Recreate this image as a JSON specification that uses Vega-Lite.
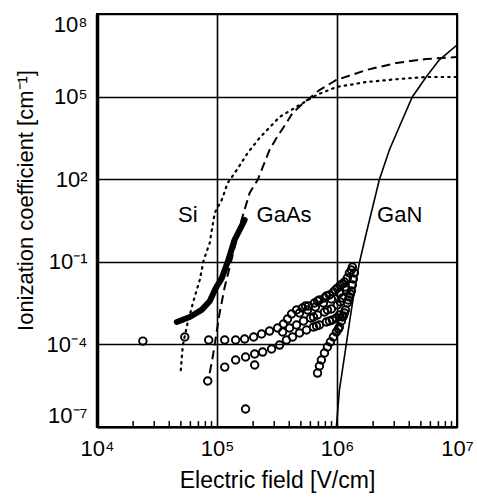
{
  "$schema": "https://vega.github.io/schema/vega-lite/v6.json",
  "width": 360,
  "height": 413,
  "autosize": "none",
  "padding": {"left": 97, "top": 14, "right": 20, "bottom": 73},
  "background": "white",
  "config": {
    "font": "Liberation Sans",
    "view": {"stroke": "black", "strokeWidth": 2},
    "axis": {"labelFont": "Liberation Sans", "titleFont": "Liberation Sans"}
  },
  "datasets": {
    "curves": [
      {"series": "Si", "E": 49900, "alpha": 1.17e-5},
      {"series": "Si", "E": 51900, "alpha": 9.46e-5},
      {"series": "Si", "E": 57100, "alpha": 6.49e-4},
      {"series": "Si", "E": 64000, "alpha": 4.09e-3},
      {"series": "Si", "E": 71800, "alpha": 0.0218},
      {"series": "Si", "E": 77500, "alpha": 0.116},
      {"series": "Si", "E": 86900, "alpha": 0.481},
      {"series": "Si", "E": 95700, "alpha": 5.91},
      {"series": "Si", "E": 109400, "alpha": 17.5},
      {"series": "Si", "E": 122700, "alpha": 72.6},
      {"series": "Si", "E": 146000, "alpha": 215},
      {"series": "Si", "E": 180000, "alpha": 893},
      {"series": "Si", "E": 226000, "alpha": 3130},
      {"series": "Si", "E": 332000, "alpha": 18200},
      {"series": "Si", "E": 487000, "alpha": 49500},
      {"series": "Si", "E": 675000, "alpha": 114000},
      {"series": "Si", "E": 988000, "alpha": 223000},
      {"series": "Si", "E": 1756000, "alpha": 339000},
      {"series": "Si", "E": 3300000, "alpha": 436000},
      {"series": "Si", "E": 5530000, "alpha": 515000},
      {"series": "Si", "E": 10000000, "alpha": 515000},
      {"series": "GaAs", "E": 86900, "alpha": 9.1e-6},
      {"series": "GaAs", "E": 92100, "alpha": 3.47e-5},
      {"series": "GaAs", "E": 105200, "alpha": 1.38e-3},
      {"series": "GaAs", "E": 115900, "alpha": 0.0121},
      {"series": "GaAs", "E": 160000, "alpha": 3.29},
      {"series": "GaAs", "E": 187000, "alpha": 31.5},
      {"series": "GaAs", "E": 218000, "alpha": 93.3},
      {"series": "GaAs", "E": 274000, "alpha": 1150},
      {"series": "GaAs", "E": 313000, "alpha": 3130},
      {"series": "GaAs", "E": 379000, "alpha": 11000},
      {"series": "GaAs", "E": 426000, "alpha": 25400},
      {"series": "GaAs", "E": 526000, "alpha": 58500},
      {"series": "GaAs", "E": 714000, "alpha": 173000},
      {"series": "GaAs", "E": 988000, "alpha": 401000},
      {"series": "GaAs", "E": 1756000, "alpha": 925000},
      {"series": "GaAs", "E": 3120000, "alpha": 1660000},
      {"series": "GaAs", "E": 5530000, "alpha": 2320000},
      {"series": "GaAs", "E": 10000000, "alpha": 2740000},
      {"series": "GaN", "E": 988000, "alpha": 1e-7},
      {"series": "GaN", "E": 1047000, "alpha": 2.2e-6},
      {"series": "GaN", "E": 1175000, "alpha": 6.23e-5},
      {"series": "GaN", "E": 1290000, "alpha": 9.87e-4},
      {"series": "GaN", "E": 1420000, "alpha": 0.0143},
      {"series": "GaN", "E": 1535000, "alpha": 0.0902},
      {"series": "GaN", "E": 1756000, "alpha": 1.11},
      {"series": "GaN", "E": 2250000, "alpha": 93.3},
      {"series": "GaN", "E": 2730000, "alpha": 1150},
      {"series": "GaN", "E": 3300000, "alpha": 7860},
      {"series": "GaN", "E": 4240000, "alpha": 96600},
      {"series": "GaN", "E": 5530000, "alpha": 515000},
      {"series": "GaN", "E": 7100000, "alpha": 2130000},
      {"series": "GaN", "E": 10000000, "alpha": 7480000},
      {"series": "SiData", "E": 46300, "alpha": 6.5e-4},
      {"series": "SiData", "E": 59300, "alpha": 9.9e-4},
      {"series": "SiData", "E": 74500, "alpha": 1.8e-3},
      {"series": "SiData", "E": 86900, "alpha": 3.7e-3},
      {"series": "SiData", "E": 97500, "alpha": 0.011},
      {"series": "SiData", "E": 109400, "alpha": 0.025},
      {"series": "SiData", "E": 122700, "alpha": 0.098},
      {"series": "SiData", "E": 140000, "alpha": 0.62},
      {"series": "SiData", "E": 170000, "alpha": 3.3}
    ],
    "points": [
      {"E": 24100, "alpha": 1.32e-4},
      {"E": 53900, "alpha": 1.85e-4},
      {"E": 85300, "alpha": 1.44e-4},
      {"E": 116000, "alpha": 1.44e-4},
      {"E": 143000, "alpha": 1.44e-4},
      {"E": 170000, "alpha": 1.57e-4},
      {"E": 202000, "alpha": 1.85e-4},
      {"E": 235000, "alpha": 2.38e-4},
      {"E": 274000, "alpha": 3.05e-4},
      {"E": 320000, "alpha": 3.93e-4},
      {"E": 358000, "alpha": 5.5e-4},
      {"E": 387000, "alpha": 8.34e-4},
      {"E": 418000, "alpha": 1.27e-3},
      {"E": 460000, "alpha": 1.77e-3},
      {"E": 515000, "alpha": 2.09e-3},
      {"E": 546000, "alpha": 2.47e-3},
      {"E": 578000, "alpha": 2.47e-3},
      {"E": 649000, "alpha": 3.18e-3},
      {"E": 688000, "alpha": 3.76e-3},
      {"E": 714000, "alpha": 4.09e-3},
      {"E": 786000, "alpha": 4.83e-3},
      {"E": 816000, "alpha": 5.71e-3},
      {"E": 865000, "alpha": 6.21e-3},
      {"E": 933000, "alpha": 7.98e-3},
      {"E": 970000, "alpha": 9.44e-3},
      {"E": 1007000, "alpha": 0.0111},
      {"E": 1067000, "alpha": 0.0143},
      {"E": 1109000, "alpha": 0.0156},
      {"E": 1153000, "alpha": 0.0184},
      {"E": 1220000, "alpha": 0.0257},
      {"E": 1268000, "alpha": 0.0391},
      {"E": 1318000, "alpha": 0.0502},
      {"E": 1343000, "alpha": 0.0646},
      {"E": 487000, "alpha": 1.38e-3},
      {"E": 568000, "alpha": 1.77e-3},
      {"E": 661000, "alpha": 2.28e-3},
      {"E": 771000, "alpha": 3.18e-3},
      {"E": 898000, "alpha": 4.45e-3},
      {"E": 1047000, "alpha": 7.34e-3},
      {"E": 1175000, "alpha": 0.0121},
      {"E": 352000, "alpha": 2.81e-4},
      {"E": 402000, "alpha": 3.93e-4},
      {"E": 460000, "alpha": 5.05e-4},
      {"E": 526000, "alpha": 7.06e-4},
      {"E": 601000, "alpha": 9.08e-4},
      {"E": 637000, "alpha": 9.87e-4},
      {"E": 688000, "alpha": 1.17e-3},
      {"E": 786000, "alpha": 1.5e-3},
      {"E": 832000, "alpha": 1.77e-3},
      {"E": 898000, "alpha": 1.93e-3},
      {"E": 1007000, "alpha": 2.69e-3},
      {"E": 1067000, "alpha": 3.46e-3},
      {"E": 1109000, "alpha": 4.83e-3},
      {"E": 1197000, "alpha": 9.44e-3},
      {"E": 116000, "alpha": 1.5e-5},
      {"E": 143000, "alpha": 2.7e-5},
      {"E": 173000, "alpha": 3.47e-5},
      {"E": 206000, "alpha": 4.46e-5},
      {"E": 240000, "alpha": 5.27e-5},
      {"E": 285000, "alpha": 6.79e-5},
      {"E": 332000, "alpha": 9.46e-5},
      {"E": 379000, "alpha": 1.44e-4},
      {"E": 426000, "alpha": 1.85e-4},
      {"E": 487000, "alpha": 2.59e-4},
      {"E": 557000, "alpha": 3.32e-4},
      {"E": 637000, "alpha": 4.27e-4},
      {"E": 675000, "alpha": 4.65e-4},
      {"E": 714000, "alpha": 5.05e-4},
      {"E": 816000, "alpha": 6.49e-4},
      {"E": 865000, "alpha": 7.06e-4},
      {"E": 916000, "alpha": 7.67e-4},
      {"E": 988000, "alpha": 9.08e-4},
      {"E": 1047000, "alpha": 1.17e-3},
      {"E": 688000, "alpha": 9.1e-6},
      {"E": 714000, "alpha": 1.64e-5},
      {"E": 741000, "alpha": 2.7e-5},
      {"E": 786000, "alpha": 4.85e-5},
      {"E": 832000, "alpha": 8.02e-5},
      {"E": 881000, "alpha": 1.22e-4},
      {"E": 933000, "alpha": 1.85e-4},
      {"E": 988000, "alpha": 2.81e-4},
      {"E": 1028000, "alpha": 3.61e-4},
      {"E": 1047000, "alpha": 4.27e-4},
      {"E": 1090000, "alpha": 7.06e-4},
      {"E": 1130000, "alpha": 1.07e-3},
      {"E": 1153000, "alpha": 1.38e-3},
      {"E": 1175000, "alpha": 1.77e-3},
      {"E": 1220000, "alpha": 3.18e-3},
      {"E": 1240000, "alpha": 4.09e-3},
      {"E": 1268000, "alpha": 5.25e-3},
      {"E": 1290000, "alpha": 6.75e-3},
      {"E": 1318000, "alpha": 8.67e-3},
      {"E": 1343000, "alpha": 0.0143},
      {"E": 1368000, "alpha": 0.0237},
      {"E": 1396000, "alpha": 0.0391},
      {"E": 1109000, "alpha": 9.87e-4},
      {"E": 206000, "alpha": 1.78e-5},
      {"E": 83700, "alpha": 4.67e-6},
      {"E": 173000, "alpha": 4.49e-7}
    ],
    "labels": [
      {"E": 57100, "alpha": 5.0, "label": "Si"},
      {"E": 362000, "alpha": 5.0, "label": "GaAs"},
      {"E": 3330000, "alpha": 5.0, "label": "GaN"}
    ],
    "minor": [
      {"E": 20000, "alpha": 1e-7}, {"E": 30000, "alpha": 1e-7}, {"E": 40000, "alpha": 1e-7}, {"E": 50000, "alpha": 1e-7}, {"E": 60000, "alpha": 1e-7}, {"E": 70000, "alpha": 1e-7}, {"E": 80000, "alpha": 1e-7}, {"E": 90000, "alpha": 1e-7},
      {"E": 200000, "alpha": 1e-7}, {"E": 300000, "alpha": 1e-7}, {"E": 400000, "alpha": 1e-7}, {"E": 500000, "alpha": 1e-7}, {"E": 600000, "alpha": 1e-7}, {"E": 700000, "alpha": 1e-7}, {"E": 800000, "alpha": 1e-7}, {"E": 900000, "alpha": 1e-7},
      {"E": 2000000, "alpha": 1e-7}, {"E": 3000000, "alpha": 1e-7}, {"E": 4000000, "alpha": 1e-7}, {"E": 5000000, "alpha": 1e-7}, {"E": 6000000, "alpha": 1e-7}, {"E": 7000000, "alpha": 1e-7}, {"E": 8000000, "alpha": 1e-7}, {"E": 9000000, "alpha": 1e-7}
    ]
  },
  "encoding": {
    "x": {
      "field": "E", "type": "quantitative",
      "scale": {"type": "log", "domain": [10000, 10000000], "nice": false},
      "axis": {
        "values": [10000, 100000, 1000000, 10000000],
        "grid": true, "gridColor": "black", "gridWidth": 1.6, "gridOpacity": 1,
        "domain": true, "domainColor": "black", "domainWidth": 2,
        "ticks": false,
        "labelExpr": "'10' + replace(replace(replace(replace(replace(replace(replace(replace('' + round(log(datum.value) / LN10), '-', '⁻'), '1', '¹'), '2', '²'), '4', '⁴'), '5', '⁵'), '6', '⁶'), '7', '⁷'), '8', '⁸')",
        "labelFontSize": 22, "labelColor": "black", "labelPadding": 11,
        "labelFlush": false, "labelOverlap": false,
        "title": "Electric field [V/cm]", "titleFontSize": 23, "titleFontWeight": "normal",
        "titleColor": "black", "titlePadding": 10
      }
    },
    "y": {
      "field": "alpha", "type": "quantitative",
      "scale": {"type": "log", "domain": [1e-7, 100000000], "nice": false},
      "axis": {
        "values": [1e-7, 0.0001, 0.1, 100, 100000, 100000000],
        "grid": true, "gridColor": "black", "gridWidth": 1.6, "gridOpacity": 1,
        "domain": true, "domainColor": "black", "domainWidth": 3.5,
        "ticks": false,
        "labelExpr": "'10' + replace(replace(replace(replace(replace(replace(replace(replace('' + round(log(datum.value) / LN10), '-', '⁻'), '1', '¹'), '2', '²'), '4', '⁴'), '5', '⁵'), '6', '⁶'), '7', '⁷'), '8', '⁸')",
        "labelFontSize": 22, "labelColor": "black", "labelPadding": 10,
        "labelFlush": true, "labelOverlap": false,
        "title": "Ionization coefficient [cm⁻¹]", "titleFontSize": 22, "titleFontWeight": "normal",
        "titleColor": "black", "titlePadding": 9, "titleY": 186
      }
    }
  },
  "layer": [
    {
      "data": {"name": "curves"},
      "transform": [{"filter": "datum.series == 'Si'"}],
      "mark": {"type": "line", "clip": true, "color": "black", "strokeWidth": 2.2, "strokeDash": [1.5, 5], "strokeCap": "round"}
    },
    {
      "data": {"name": "curves"},
      "transform": [{"filter": "datum.series == 'GaAs'"}],
      "mark": {"type": "line", "clip": true, "color": "black", "strokeWidth": 2, "strokeDash": [9, 5]}
    },
    {
      "data": {"name": "curves"},
      "transform": [{"filter": "datum.series == 'GaN'"}],
      "mark": {"type": "line", "clip": true, "color": "black", "strokeWidth": 1.6}
    },
    {
      "data": {"name": "curves"},
      "transform": [{"filter": "datum.series == 'SiData'"}],
      "mark": {"type": "line", "clip": true, "color": "black", "strokeWidth": 6, "strokeCap": "round", "strokeJoin": "round"}
    },
    {
      "data": {"name": "points"},
      "mark": {"type": "point", "shape": "circle", "filled": false, "color": "black", "size": 56, "strokeWidth": 1.9, "opacity": 1}
    },
    {
      "data": {"name": "minor"},
      "mark": {"type": "tick", "orient": "vertical", "color": "black", "size": 6, "thickness": 1.5, "yOffset": -3, "opacity": 1}
    },
    {
      "data": {"name": "labels"},
      "mark": {"type": "text", "font": "Liberation Sans", "fontSize": 22, "color": "black", "align": "center", "baseline": "middle"},
      "encoding": {
        "text": {"field": "label", "type": "nominal"}
      }
    }
  ]
}
